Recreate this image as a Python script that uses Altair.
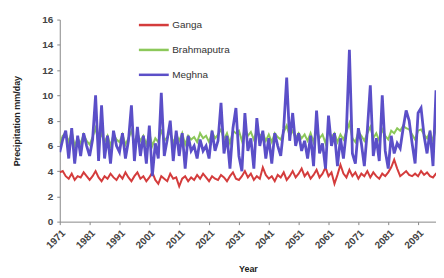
import altair as alt
import pandas as pd

years = list(range(1971, 2101))

meghna = [5.5, 6.5, 7.2, 5.0, 7.4, 4.6, 6.8, 5.2, 7.0, 6.0,
          5.2, 6.5, 10.0, 4.8, 9.2, 5.0, 6.8, 4.6, 7.2, 6.0,
          5.5, 7.0, 5.0, 6.4, 9.2, 4.8, 7.5, 5.2, 6.8, 4.6,
          7.6, 3.6, 6.2, 5.0, 10.2, 5.2, 6.5, 8.0, 4.8, 7.2,
          5.2, 7.0, 4.2, 6.8, 5.6, 6.0, 5.0, 6.5, 5.6, 6.0,
          5.0, 7.2, 5.6, 6.4, 9.4, 5.4, 6.8, 4.2, 7.4, 9.0,
          5.2, 4.0, 8.6, 5.6, 6.6, 4.2, 8.2, 6.0, 7.2, 5.0,
          6.6, 4.6, 7.0, 6.0, 5.2, 7.4, 11.4, 6.4, 8.6, 6.0,
          7.0, 5.6, 6.4, 5.0, 6.8, 4.4, 8.8, 5.4, 6.2, 4.2,
          8.4, 6.0, 7.0, 4.4, 6.6, 5.0, 7.2, 13.6, 5.4, 4.6,
          7.4, 6.2, 4.4, 7.2, 10.8, 5.2, 6.6, 4.8, 10.0, 5.6,
          4.2, 6.8, 5.4, 6.2, 5.8, 7.4, 8.8, 8.0, 6.2, 4.6,
          8.6, 9.0, 6.8, 5.4, 7.2, 4.4, 10.4, 5.8, 6.6, 5.8]

ganga = [3.9, 4.0, 3.6, 3.4, 3.8, 3.3, 3.6, 3.5, 3.9, 3.6,
         3.3, 3.6, 4.0, 3.5, 3.2, 3.6, 3.4, 3.8, 3.5, 3.3,
         3.7, 3.4, 3.9, 3.5, 3.2, 3.6, 3.9, 3.4, 3.6, 3.2,
         3.5, 3.9, 3.3, 3.0, 3.6, 3.4, 3.2, 3.8, 3.4, 3.5,
         2.8, 3.4, 3.6, 3.2, 3.5, 3.3, 3.7, 3.4, 3.8, 3.5,
         3.2, 3.6, 3.4, 3.3, 3.7, 3.5, 3.2, 3.6, 3.9, 3.4,
         3.3, 3.6, 4.0, 3.5, 3.8, 3.3, 3.6, 3.4, 4.3, 3.7,
         3.4, 3.6, 3.2, 3.7, 3.5, 3.9, 3.3, 3.6, 4.0, 3.5,
         3.8, 4.2, 3.6, 3.9, 3.4, 3.7, 4.1, 3.5, 3.8, 4.3,
         3.6, 3.9, 3.0, 3.7, 4.5, 3.8, 3.5, 4.1, 3.6, 3.9,
         3.4, 3.8, 3.6, 4.0, 3.5, 3.9, 3.6, 3.4, 3.8, 3.6,
         3.9, 4.3, 4.9, 4.2, 3.6, 3.8, 4.0, 3.7, 3.6, 3.8,
         3.6, 4.0, 3.7, 3.9, 3.6, 3.5, 3.8, 3.9, 3.7, 3.8]

brahmaputra = [6.2, 6.8, 7.0, 6.3, 7.1, 6.0, 6.6, 6.2, 6.9, 6.4,
               6.1, 6.7, 7.4, 6.2, 7.0, 6.3, 6.8, 6.0, 6.9, 6.5,
               6.3, 6.9, 6.1, 6.6, 7.2, 6.2, 7.0, 6.4, 6.8, 6.1,
               7.0, 6.0, 6.6, 6.3, 7.3, 6.4, 6.7, 7.1, 6.2, 6.9,
               6.4, 7.0, 6.1, 6.8, 6.5, 6.7, 6.3, 7.0, 6.6, 6.8,
               6.3, 7.1, 6.6, 6.9, 7.3, 6.5, 7.0, 6.2, 7.2, 7.0,
               7.2, 6.4, 7.4, 6.8, 7.1, 6.5, 7.2, 6.8, 7.0, 6.4,
               6.9, 6.3, 7.0, 6.7, 6.5, 7.1, 7.6, 6.8, 7.2, 6.6,
               7.0, 6.6, 6.9, 6.4, 7.0, 6.3, 7.3, 6.6, 6.9, 6.2,
               7.2, 6.7, 7.0, 6.3, 6.9, 6.5, 7.1, 7.8, 6.6, 6.3,
               7.1, 6.8, 6.4, 7.0, 7.5, 6.6, 7.0, 6.4, 7.3, 6.8,
               6.5, 7.2, 7.0, 7.4, 7.2, 7.6, 7.4, 7.3, 6.9, 6.5,
               7.2, 7.3, 6.9, 6.6, 7.1, 6.4, 7.4, 6.8, 7.0, 6.7]

series_names = ["Ganga", "Brahmaputra", "Meghna"]
series_colors = ["#d43c3c", "#8cc85a", "#5b4fc8"]
x_ticks = list(range(1971, 2092, 10))
y_ticks = list(range(0, 17, 2))

rows = []
for name, vals in zip(series_names, [ganga, brahmaputra, meghna]):
    for yr, v in zip(years, vals):
        rows.append({"Year": yr, "Series": name, "Value": v})
df = pd.DataFrame(rows)

color = alt.Color(
    "Series:N",
    scale=alt.Scale(domain=series_names, range=series_colors),
    legend=alt.Legend(
        title=None, orient="none", legendX=78, legendY=-11,
        symbolType="stroke", symbolSize=900, symbolStrokeWidth=2.5,
        labelFontSize=10, labelColor="#333", rowPadding=3,
        labelFont="Liberation Sans", labelOffset=2,
    ),
)

x = alt.X(
    "Year:Q",
    scale=alt.Scale(domain=[1971, 2097], nice=False, zero=False),
    axis=alt.Axis(values=x_ticks, format="d", labelAngle=315, labelAlign="right",
                  labelBaseline="top", title="Year", grid=False),
)
y = alt.Y(
    "Value:Q",
    scale=alt.Scale(domain=[0, 16], nice=False),
    axis=alt.Axis(values=y_ticks, title="Precipitation mm/day", grid=False),
)

layers = []
for name, sw in zip(series_names, [2.0, 2.0, 2.8]):
    layers.append(
        alt.Chart(df)
        .transform_filter(alt.datum.Series == name)
        .mark_line(strokeWidth=sw, clip=True)
        .encode(x=x, y=y, color=color)
    )

chart = (
    alt.layer(*layers)
    .properties(
        width=378, height=203,
        autosize=alt.AutoSizeParams(type="none"),
        padding={"left": 52, "top": 11, "right": 0, "bottom": 54},
    )
    .configure_view(stroke=None)
    .configure_axis(
        domainColor="#888", tickColor="#888", tickSize=3,
        labelFont="Liberation Sans", labelFontSize=10, labelFontWeight="bold",
        labelColor="#444", titleFont="Liberation Sans", titleFontSize=9,
        titleFontWeight="bold", titleColor="#222",
    )
    .configure_axisX(titlePadding=14, labelPadding=3)
    .configure_axisY(titlePadding=20, labelPadding=4)
)

chart.save("out.html", embed_options={"renderer": "svg", "actions": False})
